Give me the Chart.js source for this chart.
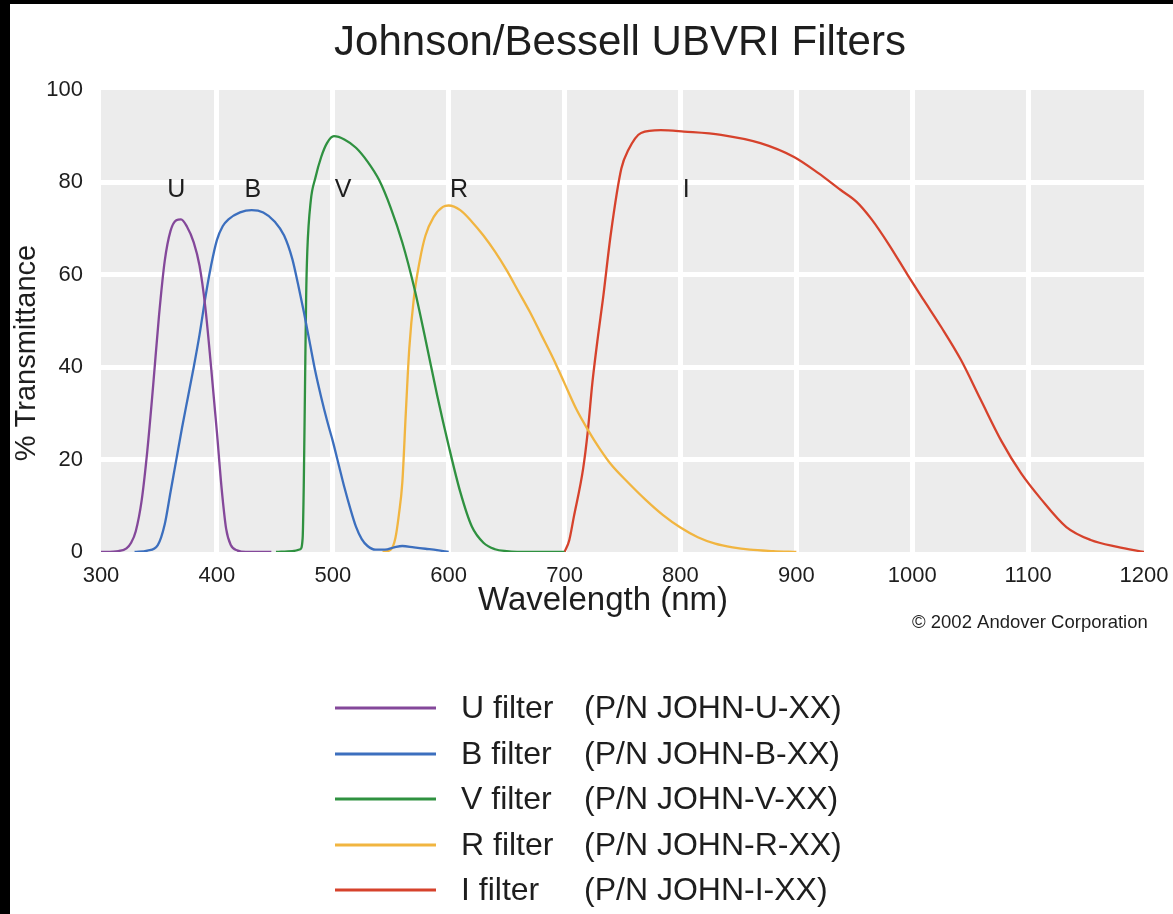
<!DOCTYPE html>
<html>
<head>
<meta charset="utf-8">
<title>Johnson/Bessell UBVRI Filters</title>
<script src="https://cdn.jsdelivr.net/npm/chart.js@4.4.1/dist/chart.umd.min.js"></script>
<style>
  html, body { margin: 0; padding: 0; background: #000; }
  #frame { position: absolute; left: 10px; top: 4px; width: 1163px; height: 910px; background: #fff; }
  #chart { display: block; }
</style>
</head>
<body>
<div id="frame"><canvas id="chart" width="1163" height="910"></canvas></div>
<script>
// Transmittance curves, [wavelength nm, % transmittance]
const uFilter = [[300,0],[315,0.2],[322,0.8],[326,2],[330,4.5],[335,11],[340,22],[345,36],[350,51],[355,63],[360,69.5],[365,71.8],[369,72],[374,70.5],[380,67],[385,62],[390,53],[395,40],[400,26],[404,14],[408,5],[412,1.5],[418,0.3],[425,0],[447,0]];
const bFilter = [[329,0],[340,0.3],[349,1.5],[355,6],[360,13],[365,20],[370,27],[375,33.5],[380,40],[385,47],[390,55],[395,62],[400,67.5],[405,70.5],[410,72],[420,73.5],[430,74],[440,73.5],[450,71.5],[458,68.5],[465,63.5],[470,58],[475,52],[480,45.5],[485,39],[490,33.5],[495,28.5],[500,24],[505,19],[510,14],[515,9.5],[520,5.5],[525,2.8],[530,1.3],[537,0.5],[545,0.5],[553,1],[560,1.3],[570,1],[580,0.7],[590,0.4],[600,0]];
const vFilter = [[451,0],[465,0.2],[472,0.6],[474,3],[475,15],[476,35],[477,55],[478,65],[481,76],[485,81],[490,85.5],[495,88.5],[501,90],[510,89.3],[520,87.5],[530,84.5],[540,80.5],[550,74.5],[560,67],[570,57.5],[580,46],[590,34],[600,23],[610,13],[620,5.5],[630,2],[640,0.6],[650,0.2],[670,0],[700,0]];
const rFilter = [[543,0],[550,0.5],[554,3],[557,8],[560,15],[563,30],[566,44],[570,55],[575,63],[580,68.5],[587,72.5],[595,74.7],[600,75],[610,74],[620,71.5],[630,68.5],[640,65],[650,61],[660,56.5],[670,52],[680,47],[690,42],[700,36.5],[710,31],[720,26.5],[730,22.5],[740,19],[755,15],[770,11.3],[785,8],[800,5.3],[815,3.2],[830,1.8],[845,1],[860,0.5],[880,0.2],[900,0]];
const iFilter = [[700,0],[704,2.5],[708,7.6],[716,18],[720,26],[724,36.6],[729,47],[733,54.5],[740,69],[749,83],[755,87],[766,90.7],[783,91.3],[803,91],[835,90.3],[869,88.5],[898,85.5],[919,82],[938,78.4],[952,75.8],[965,72],[980,66.5],[996,60],[1010,54.5],[1025,48.7],[1042,41.6],[1059,33],[1077,24],[1094,17],[1111,11.5],[1133,5.4],[1154,2.6],[1177,1.1],[1200,0]];

const filterNames = ['U filter', 'B filter', 'V filter', 'R filter', 'I filter'];
const partNumbers = ['(P/N JOHN-U-XX)', '(P/N JOHN-B-XX)', '(P/N JOHN-V-XX)', '(P/N JOHN-R-XX)', '(P/N JOHN-I-XX)'];
const filterColors = ['#84489a', '#3c6fbe', '#2f9140', '#f1b540', '#d6422c'];

// Band letters written over the curves, placed by wavelength and % level
const bandLetters = ['U', 'B', 'V', 'R', 'I'];
const bandLetterNm = [365, 431, 509, 609, 805];
const bandLetterLevel = 78.3;

const xTicks = [300, 400, 500, 600, 700, 800, 900, 1000, 1100, 1200];
const xTickLabels = ['300', '400', '500', '600', '700', '800', '900', '1000', '1100', '1200'];
const yTicks = [0, 20, 40, 60, 80, 100];
const yTickLabels = ['0', '20', '40', '60', '80', '100'];

const titleText = 'Johnson/Bessell UBVRI Filters';
const xTitle = 'Wavelength (nm)';
const yTitle = '% Transmittance';
const creditText = '\u00A9 2002 Andover Corporation';

const FONT = '"Liberation Sans", Arial, Helvetica, sans-serif';
const INK = '#1e1e1e';

const series = [uFilter, bFilter, vFilter, rFilter, iFilter];

const datasets = series.map((pts, i) => ({
  label: filterNames[i],
  data: pts.map(p => ({ x: p[0], y: p[1] })),
  borderColor: filterColors[i],
  borderWidth: 2.3,
  pointRadius: 0,
  fill: false,
  cubicInterpolationMode: 'monotone'
}));

const edgeHidden = (ticksArr) => (ctx) =>
  (ctx.index === 0 || ctx.index === ticksArr.length - 1) ? 'rgba(0,0,0,0)' : '#ffffff';

const decorations = {
  id: 'decorations',
  beforeDraw(chart) {
    const { ctx, chartArea: a } = chart;
    ctx.save();
    ctx.fillStyle = '#ffffff';
    ctx.fillRect(0, 0, chart.width, chart.height);
    ctx.fillStyle = '#ececec';
    ctx.fillRect(a.left, a.top, a.right - a.left, a.bottom - a.top);
    ctx.restore();
  },
  afterDraw(chart) {
    const { ctx } = chart;
    const xs = chart.scales.x, ys = chart.scales.y;
    ctx.save();
    ctx.fillStyle = INK;

    // Title
    ctx.textAlign = 'center';
    ctx.textBaseline = 'middle';
    ctx.font = '42px ' + FONT;
    ctx.fillText(titleText, 610, 39);

    // Axis titles
    ctx.font = '33px ' + FONT;
    ctx.fillText(xTitle, 593, 597);
    ctx.save();
    ctx.translate(17, 349);
    ctx.rotate(-Math.PI / 2);
    ctx.font = '29px ' + FONT;
    ctx.fillText(yTitle, 0, 0);
    ctx.restore();

    // Credit line
    ctx.textAlign = 'left';
    ctx.font = '18.5px ' + FONT;
    ctx.fillText(creditText, 902, 619);

    // Band letters over the curves
    ctx.textAlign = 'center';
    ctx.font = '25px ' + FONT;
    bandLetters.forEach((s, i) => {
      ctx.fillText(s, xs.getPixelForValue(bandLetterNm[i]), ys.getPixelForValue(bandLetterLevel));
    });

    // Legend
    const rowY = [704, 750, 795, 841, 886];
    ctx.textAlign = 'left';
    ctx.font = '32px ' + FONT;
    chart.data.datasets.forEach((ds, i) => {
      const y = rowY[i];
      ctx.strokeStyle = ds.borderColor;
      ctx.lineWidth = 3;
      ctx.beginPath();
      ctx.moveTo(325, y);
      ctx.lineTo(426, y);
      ctx.stroke();
      ctx.fillStyle = INK;
      ctx.fillText(filterNames[i], 451, y + 1);
      ctx.fillText(partNumbers[i], 574, y + 1);
    });
    ctx.restore();
  }
};

new Chart(document.getElementById('chart'), {
  type: 'line',
  data: { datasets },
  plugins: [decorations],
  options: {
    responsive: false,
    animation: false,
    events: [],
    layout: { padding: { left: 0, top: 86, right: 29, bottom: 312 } },
    plugins: { legend: { display: false }, tooltip: { enabled: false }, title: { display: false } },
    scales: {
      x: {
        type: 'linear',
        min: 300, max: 1200,
        afterBuildTicks: (s) => { s.ticks = xTicks.map(v => ({ value: v })); },
        afterFit: (s) => { s.height = 50; s.paddingLeft = 0; s.paddingRight = 0; },
        border: { display: false },
        grid: { color: edgeHidden(xTicks), lineWidth: 5, drawTicks: false },
        ticks: {
          padding: 11, color: INK, font: { family: FONT, size: 22 }, maxRotation: 0, autoSkip: false,
          callback: (v, i) => xTickLabels[i]
        }
      },
      y: {
        min: 0, max: 100,
        afterBuildTicks: (s) => { s.ticks = yTicks.map(v => ({ value: v })); },
        afterFit: (s) => { s.width = 91; s.paddingTop = 0; s.paddingBottom = 0; },
        border: { display: false },
        grid: { color: edgeHidden(yTicks), lineWidth: 5, drawTicks: false },
        ticks: {
          padding: 18, color: INK, font: { family: FONT, size: 22 },
          callback: (v, i) => yTickLabels[i]
        }
      }
    }
  }
});
</script>
</body>
</html>
